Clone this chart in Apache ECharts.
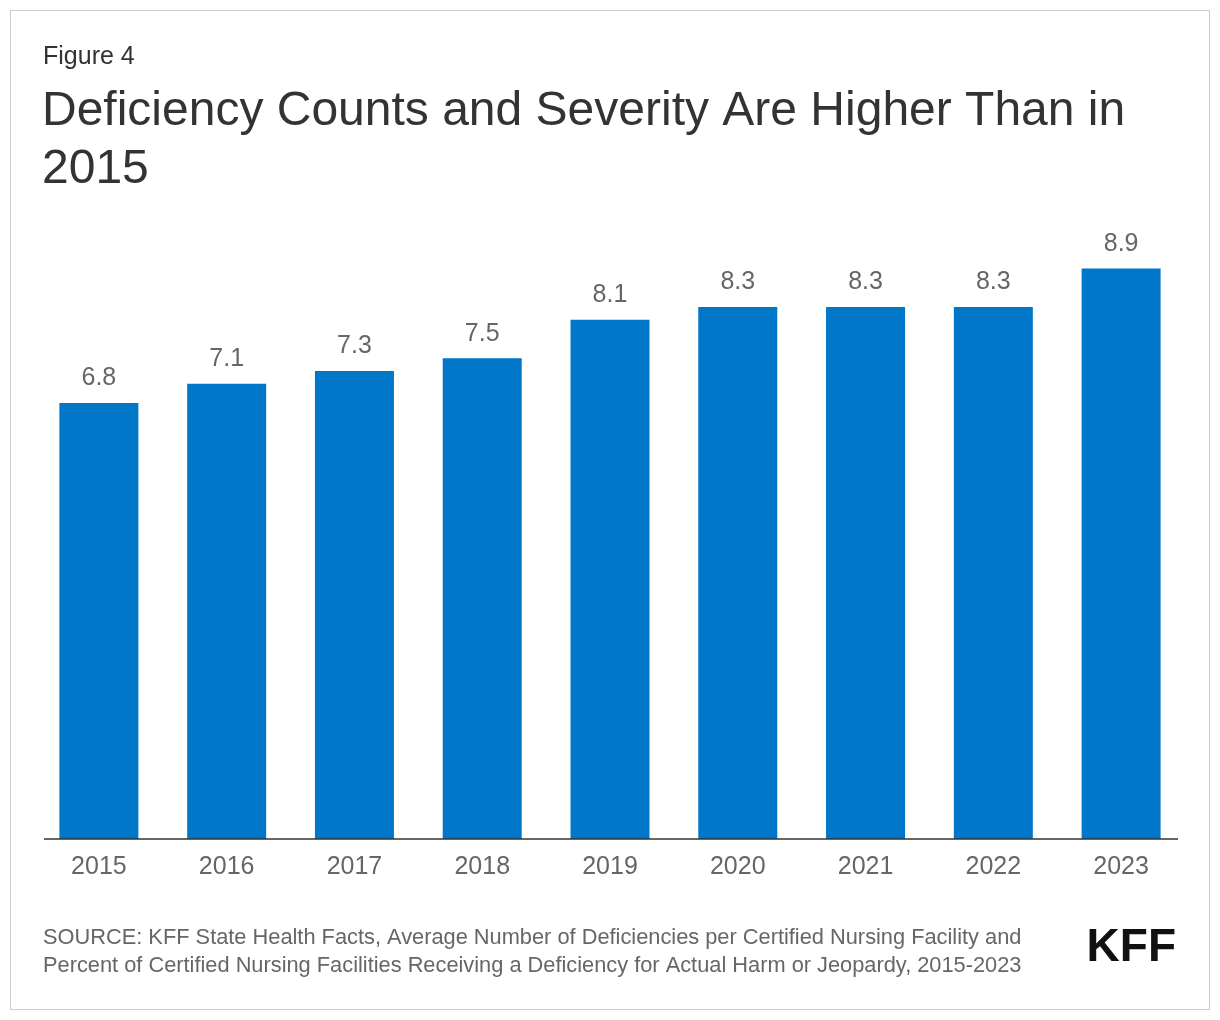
<!DOCTYPE html>
<html><head><meta charset="utf-8">
<script src="https://cdn.jsdelivr.net/npm/echarts@6/dist/echarts.min.js"></script>
<style>
body{margin:0;background:#fff;font-family:"Liberation Sans",Arial,sans-serif}
#frame{position:absolute;left:10px;top:10px;width:1198px;height:998px;border:1px solid #ccc}
#chart{position:absolute;left:0;top:0;width:1220px;height:1020px}
</style></head><body>
<div id="frame"></div>
<div id="chart"></div>
<script>
const years = ['2015','2016','2017','2018','2019','2020','2021','2022','2023'];
const deficiencies = [6.8, 7.1, 7.3, 7.5, 8.1, 8.3, 8.3, 8.3, 8.9];

const chart = echarts.init(document.getElementById('chart'));
const font = '"Liberation Sans", Arial, sans-serif';
chart.setOption({
  animation: false,
  graphic: [
    { type: 'text', left: 43, top: 45, style: { text: 'Figure 4', font: '25px ' + font, fill: '#333' } },
    { type: 'text', left: 42, top: 83, style: { text: 'Deficiency Counts and Severity Are Higher Than in\n2015', font: '48px ' + font, fill: '#333', lineHeight: 58 } },
    { type: 'text', left: 43, top: 924, style: { text: 'SOURCE: KFF State Health Facts, Average Number of Deficiencies per Certified Nursing Facility and\nPercent of Certified Nursing Facilities Receiving a Deficiency for Actual Harm or Jeopardy, 2015-2023', font: '21.8px ' + font, fill: '#666', lineHeight: 28 } },
    { type: 'text', right: 44, top: 925, style: { text: 'KFF', font: 'bold 46px ' + font, fill: '#111' } },
    { type: 'line', shape: { x1: 44, y1: 839, x2: 1178, y2: 839 }, style: { stroke: '#333', lineWidth: 1.5 }, z: 10 }
  ],
  grid: { left: 35, right: 35, top: 262, bottom: 181 },
  xAxis: {
    type: 'category', data: years,
    axisLine: { show: false },
    axisTick: { show: false },
    axisLabel: { color: '#666', fontSize: 25, margin: 16, fontFamily: font }
  },
  yAxis: { type: 'value', min: 0, max: 9, show: false, splitLine: { show: false } },
  series: [{
    type: 'bar', data: deficiencies, barWidth: 79,
    itemStyle: { color: '#0077C8' },
    label: { show: true, position: 'top', distance: 12, color: '#666', fontSize: 25, fontFamily: font, formatter: p => p.value.toFixed(1) }
  }]
});
</script></body></html>
